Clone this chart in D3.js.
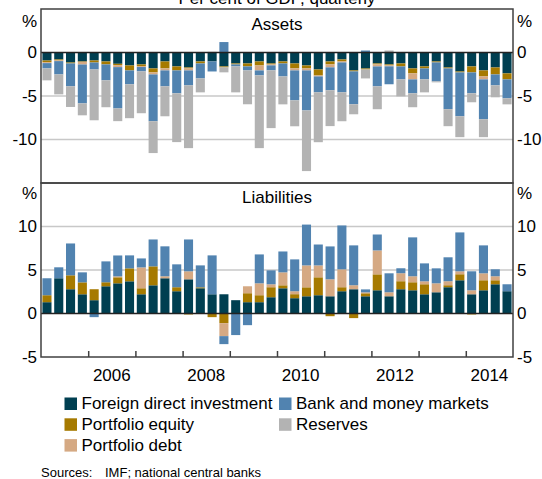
<!DOCTYPE html>
<meta charset="utf-8">
<script src="https://d3js.org/d3.v7.min.js"></script>
<style>
  body { margin: 0; background: #fff; }
  text { font-family: Arial, "Liberation Sans", sans-serif; fill: #000; }
</style>
<body>
<div id="chart"></div>
<script>
  // quarters 2005 Q1 .. 2014 Q4
  var quarters = d3.range(40);
  var yearLabels = [2006, 2008, 2010, 2012, 2014];
  var yearTicks = [2006, 2007, 2008, 2009, 2010, 2011, 2012, 2013, 2014];

  // Assets (per cent of GDP, outflows shown negative)
  var assetsFdi = [-0.92, -0.80, -1.15, -1.03, -0.92, -1.03, -1.30, -1.49, -1.37, -1.83, -1.03, -1.60, -1.72, -1.03, -1.03, -1.60, -1.26, -1.26, -1.03, -1.26,
    -1.03, -1.26, -1.49, -1.95, -1.03, -0.80, -2.06, -1.84, -1.26, -1.37, -1.26, -1.83, -1.60, -1.03, -1.72, -2.18, -1.60, -2.06, -1.72, -2.40];
  var assetsEquity = [-0.19, -0.11, -0.11, -0.05, -0.23, -0.34, -0.15, -0.57, -0.19, -0.46, -0.80, -0.46, -0.11, -0.23, 0, -0.11, -0.11, -0.34, -0.46, -0.11,
    -0.23, -0.57, -0.34, -0.69, -0.34, -0.23, -0.11, -0.11, -0.11, -0.11, -0.34, -0.57, -0.23, -0.11, -0.11, -0.11, -0.69, -0.69, -0.80, -0.69];
  var assetsDebt = [-0.11, -0.08, 0, -0.30, 0, 0, -0.23, 0, -0.11, -0.23, -0.23, 0, -0.23, 0, 0, 0.05, 0, 0, -0.57, -0.11,
    0, -0.23, -0.23, -0.11, -0.34, -0.11, 0, 0, -0.23, -0.11, 0, -0.69, 0, 0, 0, 0, 0, -0.34, 0, 0];
  var assetsBank = [-0.61, -1.53, -2.63, -4.47, -0.80, -1.83, -4.75, -1.60, -0.50, -5.38, -1.83, -2.63, -1.72, -1.72, -1.15, 1.15, -0.23, -0.46, -0.57, -0.57,
    -1.49, -3.44, -4.60, -1.83, -2.63, -3.44, -3.78, 0.23, -2.29, -2.06, -1.49, -1.60, -1.26, -2.18, -4.69, -5.04, -2.40, -4.58, -1.26, -2.18];
  var assetsReserves = [-1.37, -2.29, -2.37, -1.37, -5.84, -3.09, -1.46, -3.89, -4.81, -3.66, -3.44, -5.61, -7.21, -1.60, 0.08, -0.57, -2.98, -3.89, -8.36, -6.64,
    -3.21, -2.98, -6.97, -5.73, -4.12, -3.32, -1.15, -1.03, -2.63, 0.23, -1.95, -1.60, -1.49, -0.11, -1.95, -2.40, -1.03, -2.06, -1.37, -0.69];

  // Liabilities
  var liabFdi = [1.30, 4.05, 2.79, 2.21, 1.53, 3.13, 3.47, 3.70, 2.21, 3.24, 4.05, 2.56, 3.93, 2.90, 2.21, 2.21, 1.53, 1.30, 1.30, 1.87,
    2.90, 1.76, 1.98, 2.10, 1.98, 2.56, 2.79, 1.98, 2.67, 1.98, 2.79, 2.67, 2.21, 2.44, 3.02, 3.82, 2.21, 2.67, 3.36, 2.56];
  var liabEquity = [0.80, 0, 1.60, 1.37, 1.26, 0.46, 0.69, 1.49, 0.69, 2.18, 0, 0.46, -0.11, 0.11, -0.42, -1.11, 0, 1.03, 0.80, 1.15,
    0.34, 0.46, 1.03, 2.06, -0.31, 0.46, -0.53, 0.34, 1.83, 0, 0.92, 0.92, 1.15, 0, 0.23, 0.69, -0.11, 1.15, 0.46, 0];
  var liabDebt = [0, 0, 0, 0, 0, 0, 0.11, 0, 2.40, 0, 0.23, 0, 0.92, 0, 0, -1.49, 0, 0.80, 1.37, 0.34,
    1.49, 0.34, 2.52, 1.37, 1.95, 2.06, 0.46, 0.11, 2.75, 0.46, 0.92, 0.69, 0.34, 1.03, 0.46, 0.34, 0.46, 0.80, 0.46, 0];
  var liabBank = [1.95, 1.26, 3.66, 1.15, -0.42, 2.40, 2.40, 1.49, 1.03, 3.09, 3.44, 2.63, 3.66, 2.52, 4.47, -0.92, -2.48, -1.34, 3.32, 1.60,
    2.40, 3.66, 4.69, 2.40, 3.78, 5.04, 4.58, 0.34, 1.83, 2.18, 0.57, 4.47, 2.06, 1.72, 2.75, 4.47, 2.18, 3.21, 0.80, 0.80];

  var seriesNames = ["Foreign direct investment", "Portfolio equity", "Portfolio debt", "Bank and money markets", "Reserves"];
  var keys = ["fdi", "equity", "debt", "bank", "reserves"];
  var colors = { fdi: "#003f51", equity: "#a67a00", debt: "#d5a983", bank: "#5183b0", reserves: "#b3b3b3" };

  var assetsRows = quarters.map(function (q, i) {
    return { q: q, fdi: assetsFdi[i], equity: assetsEquity[i], debt: assetsDebt[i], bank: assetsBank[i], reserves: assetsReserves[i] };
  });
  var liabRows = quarters.map(function (q, i) {
    return { q: q, fdi: liabFdi[i], equity: liabEquity[i], debt: liabDebt[i], bank: liabBank[i], reserves: 0 };
  });

  var W = 542, H = 479;
  var left = 41, right = 513;
  var font = "Arial, 'Liberation Sans', sans-serif";
  var fs = "17px";
  var plainNum = function (d) { return String(d); };   // hyphen minus, like the original

  var svg = d3.select("#chart").append("svg")
    .attr("width", W).attr("height", H);

  var x = d3.scaleBand().domain(quarters).range([left, right]).paddingInner(0.23).paddingOuter(0.12);
  var xq = d3.scaleLinear().domain([2005, 2015]).range([left, right]);

  var stack = d3.stack().keys(keys).offset(d3.stackOffsetDiverging);

  function panel(rows, top, bottom, domain, gridVals, labelVals, title, titleY, pctY) {
    var y = d3.scaleLinear().domain(domain).range([bottom, top]);
    var g = svg.append("g");

    // grid
    g.selectAll(".grid").data(gridVals).enter().append("line")
      .attr("x1", left).attr("x2", right)
      .attr("y1", function (d) { return y(d); }).attr("y2", function (d) { return y(d); })
      .attr("stroke", "#c8c8c8").attr("stroke-width", 1.5);

    // bars
    g.selectAll(".layer").data(stack(rows)).enter().append("g")
      .attr("fill", function (d) { return colors[d.key]; })
      .selectAll("rect").data(function (d) { return d; }).enter().append("rect")
      .attr("x", function (d) { return x(d.data.q); })
      .attr("width", x.bandwidth())
      .attr("y", function (d) { return y(Math.max(d[0], d[1])); })
      .attr("height", function (d) { return Math.abs(y(d[0]) - y(d[1])); });

    // zero line
    g.append("line").attr("x1", left).attr("x2", right)
      .attr("y1", y(0)).attr("y2", y(0))
      .attr("stroke", "#222").attr("stroke-width", 1.5);

    // axes labels left and right
    g.append("g").attr("transform", "translate(" + left + ",0)")
      .call(d3.axisLeft(y).tickValues(labelVals).tickSize(0).tickPadding(4).tickFormat(plainNum))
      .call(function (a) { a.select(".domain").remove(); })
      .selectAll("text").style("font-size", fs).style("font-family", font).attr("fill", "#000");
    g.append("g").attr("transform", "translate(" + right + ",0)")
      .call(d3.axisRight(y).tickValues(labelVals).tickSize(0).tickPadding(4).tickFormat(plainNum))
      .call(function (a) { a.select(".domain").remove(); })
      .selectAll("text").style("font-size", fs).style("font-family", font).attr("fill", "#000");

    g.append("text").attr("x", left - 4).attr("y", pctY).attr("dy", "0.35em")
      .attr("text-anchor", "end").style("font-size", fs).text("%");
    g.append("text").attr("x", right + 4).attr("y", pctY).attr("dy", "0.35em")
      .attr("text-anchor", "start").style("font-size", fs).text("%");

    g.append("text").attr("x", (left + right) / 2).attr("y", titleY).attr("dy", "0.35em")
      .attr("text-anchor", "middle").style("font-size", fs).text(title);

    // frame
    g.append("rect").attr("x", left).attr("y", top).attr("width", right - left).attr("height", bottom - top)
      .attr("fill", "none").attr("stroke", "#404040").attr("stroke-width", 1.5);
    return y;
  }

  panel(assetsRows, 9, 183, [-15, 5], [-5, -10], [0, -5, -10], "Assets", 24, 21);
  panel(liabRows, 183, 357, [-5, 15], [10, 5], [10, 5, 0, -5], "Liabilities", 197, 193);

  // year ticks (inward) and labels
  svg.append("g").attr("transform", "translate(0,357)")
    .call(d3.axisTop(xq).tickValues(yearTicks).tickSize(6).tickFormat(""))
    .call(function (a) { a.select(".domain").remove(); })
    .selectAll("line").attr("stroke", "#404040").attr("stroke-width", 1.5);

  svg.append("g").selectAll("text").data(yearLabels).enter().append("text")
    .attr("x", function (d) { return xq(d + 0.5); })
    .attr("y", 381)
    .attr("text-anchor", "middle").style("font-size", fs)
    .text(function (d) { return d; });

  // title (partly above the top edge, as in the original)
  svg.append("text").attr("x", (left + right) / 2).attr("y", 4)
    .attr("text-anchor", "middle").style("font-size", fs)
    .text("Per cent of GDP, quarterly");

  // legend
  var legendItems = [
    { key: "fdi", col: 0, row: 0 }, { key: "bank", col: 1, row: 0 },
    { key: "equity", col: 0, row: 1 }, { key: "reserves", col: 1, row: 1 },
    { key: "debt", col: 0, row: 2 }
  ];
  var colX = [64.5, 279];
  var leg = svg.append("g").selectAll("g").data(legendItems).enter().append("g")
    .attr("transform", function (d) { return "translate(" + colX[d.col] + "," + (403.5 + d.row * 20.8) + ")"; });
  leg.append("rect").attr("x", 0).attr("y", -6).attr("width", 12.5).attr("height", 12.5)
    .attr("fill", function (d) { return colors[d.key]; });
  leg.append("text").attr("x", 17).attr("y", 0).attr("dy", "0.35em").style("font-size", fs)
    .text(function (d) { return seriesNames[keys.indexOf(d.key)]; });

  // source
  svg.append("text").attr("x", 41).attr("y", 477).style("font-size", "13px").text("Sources:");
  svg.append("text").attr("x", 105).attr("y", 477).style("font-size", "13px").text("IMF; national central banks");
</script>
</body>
